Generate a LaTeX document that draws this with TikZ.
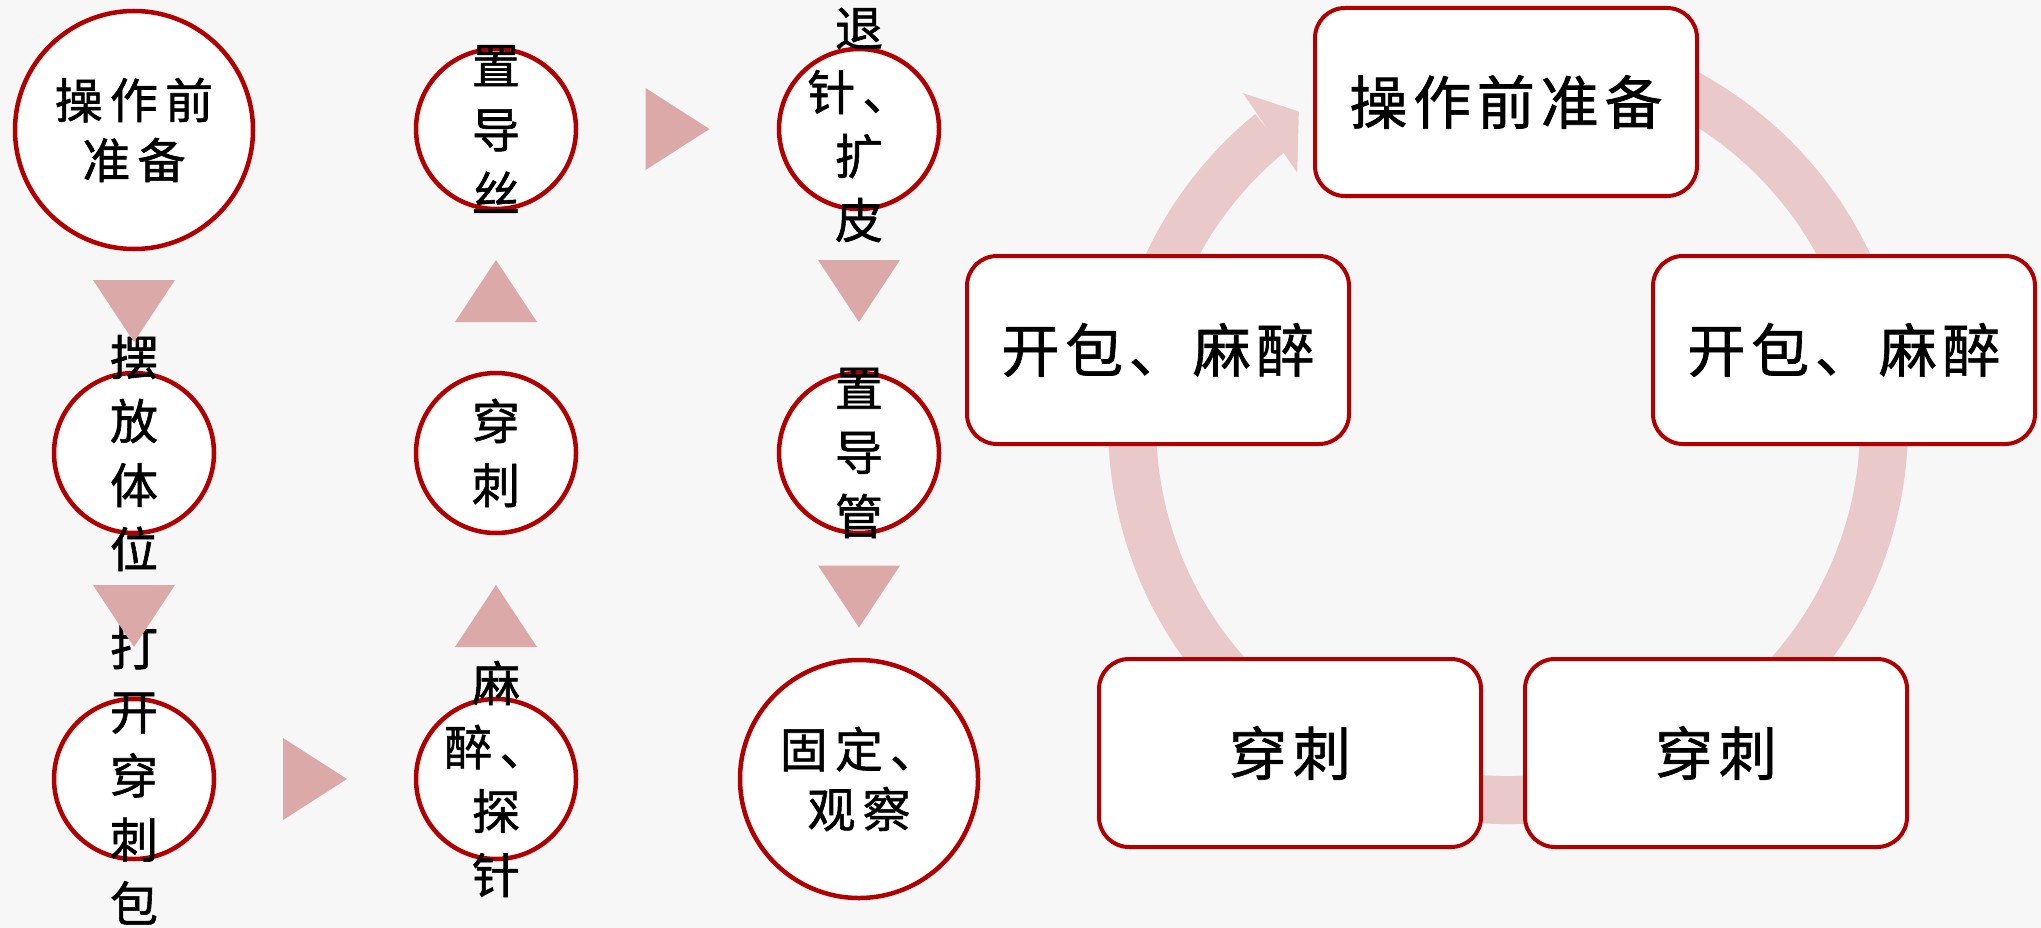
\documentclass[tikz,border=0pt]{standalone}
\usepackage{fontspec}
\newfontfamily\cjkwide[LetterSpace=15, FakeBold=1.2]{Noto Sans CJK SC}
\newfontfamily\cjkcard[LetterSpace=10, FakeBold=1.2]{Noto Sans CJK SC}
\usepackage{tikz}
\usetikzlibrary{calc}

\definecolor{rim}{HTML}{B20000}
\definecolor{marker}{HTML}{DCA9A9}
\definecolor{ring}{HTML}{E9C9C9}
\definecolor{paper}{HTML}{F7F7F7}

\tikzset{
  stage/.style={circle, draw=rim, line width=4.5pt, fill=white, minimum size=160pt, inner sep=0pt},
  bigstage/.style={stage, minimum size=238pt},
  word/.style={align=center, inner sep=0pt, font=\fontsize{48}{64}\selectfont\cjkwide},
  bigword/.style={align=center, inner sep=0pt, font=\fontsize{48}{60}\selectfont\cjkwide},
  card/.style={draw=rim, line width=4pt, fill=white, rounded corners=30pt, minimum width=382pt, minimum height=188pt, font=\fontsize{58}{70}\selectfont\cjkcard},
  tri down/.pic={\fill[marker] (-41,-31) -- (41,-31) -- (0,31) -- cycle;},
  tri up/.pic={\fill[marker] (-41,31) -- (41,31) -- (0,-31) -- cycle;},
  tri right/.pic={\fill[marker] (-32,-41) -- (-32,41) -- (32,0) -- cycle;},
}

\begin{document}
\begin{tikzpicture}[x=1pt, y=-1pt]
  % Page
  \fill[paper] (0,0) rectangle (2041,928);
  \useasboundingbox (0,0) rectangle (2041,928);

  % Flow circles
  \node[bigstage] (prep) at (134,130) {};
  \node[stage] (posture) at (134,453) {};
  \node[stage] (kit) at (134,779) {};
  \node[stage] (wire) at (496,129) {};
  \node[stage] (puncture) at (496,453) {};
  \node[stage] (numb) at (496,779) {};
  \node[stage] (dilate) at (859,129) {};
  \node[stage] (catheter) at (859,453) {};
  \node[bigstage] (fix) at (859,779) {};

  % Flow texts
  \node[bigword] (prep-t) at (prep) {操作前\\准备};
  \node[word] (posture-t) at (posture) {摆\\放\\体\\位};
  \node[word] (kit-t) at ($(kit)+(0,-4)$) {打\\开\\穿\\刺\\包};
  \node[word] (wire-t) at (wire) {置\\导\\丝};
  \node[word] (puncture-t) at (puncture) {穿\\刺};
  \node[word] (numb-t) at (numb) {麻\\醉、\\探\\针};
  \node[word] (dilate-t) at ($(dilate)+(0,-4)$) {退\\针、\\扩\\皮};
  \node[word] (catheter-t) at (catheter) {置\\导\\管};
  \node[bigword] (fix-t) at (fix) {固定、\\观察};

  % Flow markers
  \pic at ($(prep.south)!0.5!(posture.north)$) {tri down};
  \pic at ($(posture.south)!0.5!(kit.north)$) {tri down};
  \pic at ($(kit.east)!0.5!(numb.west)$) {tri right};
  \pic at ($(numb.north)!0.5!(puncture.south)$) {tri up};
  \pic at ($(puncture.north)!0.5!(wire.south)$) {tri up};
  \pic at ($(wire.east)!0.5!(dilate.west)$) {tri right};
  \pic at ($(dilate.south)!0.5!(catheter.north)$) {tri down};
  \pic at ($(catheter.south)!0.5!(fix.north)$) {tri down};

  % Cycle ring
  \coordinate (hub) at (1508,424);
  \draw[ring, line width=48pt] ($(hub)+(-100:376)$) arc[start angle=-100, end angle=230.8, radius=376];
  \fill[ring] ($(hub)+(-128.7:424)$) -- ($(hub)+(-123.8:376)$) -- ($(hub)+(-130:328)$) -- cycle;

  % Cycle cards
  \node[card] (c-prep) at (1506,102) {操作前准备};
  \node[card] (c-openl) at (1158,350) {开包、麻醉};
  \node[card] (c-openr) at (1844,350) {开包、麻醉};
  \node[card] (c-punl) at (1290,753) {穿刺};
  \node[card] (c-punr) at (1716,753) {穿刺};
\end{tikzpicture}
\end{document}
